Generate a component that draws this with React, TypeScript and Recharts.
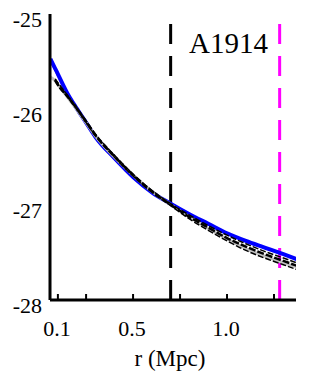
import React from 'react';
import { LineChart, Line, XAxis, YAxis, ReferenceLine } from 'recharts';

const radius = [0.06, 0.085, 0.1, 0.15, 0.2, 0.25, 0.3, 0.4, 0.5, 0.6, 0.7, 0.8, 0.9, 1.0, 1.1, 1.2, 1.3, 1.37];
const blueFit = [-25.47, -25.57, -25.63, -25.83, -25.99, -26.14, -26.29, -26.51, -26.71, -26.87, -26.99, -27.1, -27.2, -27.3, -27.38, -27.45, -27.52, -27.57];
const redFit = [-25.5, -25.59, -25.65, -25.84, -26.0, -26.15, -26.3, -26.52, -26.72, -26.87, -26.99, -27.1, -27.2, -27.3, -27.38, -27.45, -27.52, -27.57];
const grayFit = [-25.66, -25.7, -25.74, -25.87, -26.0, -26.14, -26.28, -26.5, -26.69, -26.86, -27.0, -27.13, -27.25, -27.36, -27.46, -27.54, -27.61, -27.65];
const blackHigh = [null, -25.68, -25.72, -25.85, -25.98, -26.12, -26.26, -26.48, -26.68, -26.85, -26.99, -27.11, -27.22, -27.32, -27.41, -27.49, -27.56, -27.61];
const blackMid = [null, -25.69, -25.74, -25.86, -25.99, -26.13, -26.27, -26.49, -26.69, -26.86, -27.0, -27.13, -27.24, -27.35, -27.44, -27.52, -27.59, -27.64];
const blackLow = [null, -25.7, -25.75, -25.87, -26.0, -26.14, -26.28, -26.5, -26.7, -26.87, -27.01, -27.15, -27.27, -27.38, -27.48, -27.56, -27.63, -27.68];

const xTicks = [0.1, 0.25, 0.5, 0.75, 1.0, 1.25];
const xLabels: Record<string, string> = { '0.1': '0.1', '0.5': '0.5', '1': '1.0' };
const yTicks = [-25, -26, -27, -28];
const rightTicks = [-26, -27];
const r200 = 0.7;
const rVir = 1.28;

const data = radius.map((r, i) => ({
  r,
  blue: blueFit[i],
  red: redFit[i],
  gray: grayFit[i],
  b1: blackHigh[i],
  b2: blackMid[i],
  b3: blackLow[i],
}));

const FONT = 'Liberation Serif';

const BottomTick = (props: any) => {
  const { x, y, payload } = props;
  const label = xLabels[String(payload.value)];
  return (
    <g>
      <line x1={x} y1={y} x2={x} y2={y - 6} stroke="#000" strokeWidth={2} />
      {label && (
        <text x={x - 1} y={y + 36} textAnchor="middle" fontFamily={FONT} fontSize={22} fill="#000">
          {label}
        </text>
      )}
    </g>
  );
};

const TopTick = (props: any) => {
  const { x, y } = props;
  return <line x1={x} y1={y} x2={x} y2={y + 6} stroke="#000" strokeWidth={2} />;
};

const LeftTick = (props: any) => {
  const { x, y, payload } = props;
  return (
    <text x={x - 8} y={y + 13} textAnchor="end" fontFamily={FONT} fontSize={22} fill="#000">
      {payload.value}
    </text>
  );
};

const RightTick = (props: any) => {
  const { x, y } = props;
  return <line x1={x} y1={y} x2={x - 7} y2={y} stroke="#000" strokeWidth={2} />;
};

export default function App() {
  return (
    <div style={{ position: 'absolute', left: 0, top: 0, background: '#fff' }}>
      <LineChart width={309} height={384} data={data} margin={{ top: 14, right: 13, bottom: 0, left: 0 }}>
        <XAxis
          xAxisId="b"
          dataKey="r"
          type="number"
          domain={[0.058, 1.367]}
          ticks={xTicks}
          interval={0}
          allowDataOverflow
          height={84}
          tickSize={0}
          tickMargin={0}
          tick={<BottomTick />}
          axisLine={{ stroke: '#000', strokeWidth: 3 }}
          tickLine={false}
        />
        <XAxis
          xAxisId="t"
          dataKey="r"
          type="number"
          orientation="top"
          domain={[0.058, 1.367]}
          ticks={xTicks}
          interval={0}
          allowDataOverflow
          height={0}
          tickSize={0}
          tickMargin={0}
          tick={<TopTick />}
          axisLine={{ stroke: '#000', strokeWidth: 3 }}
          tickLine={false}
        />
        <YAxis
          yAxisId="l"
          type="number"
          domain={[-28, -25]}
          ticks={yTicks}
          interval={0}
          allowDataOverflow
          width={50}
          tickSize={0}
          tickMargin={0}
          tick={<LeftTick />}
          axisLine={{ stroke: '#000', strokeWidth: 3 }}
          tickLine={false}
        />
        <YAxis
          yAxisId="r"
          orientation="right"
          type="number"
          domain={[-28, -25]}
          ticks={rightTicks}
          interval={0}
          allowDataOverflow
          width={0}
          tickSize={0}
          tickMargin={0}
          tick={<RightTick />}
          axisLine={{ stroke: '#000', strokeWidth: 3 }}
          tickLine={false}
        />
        <ReferenceLine xAxisId="b" yAxisId="l" x={r200} stroke="#000" strokeWidth={3} strokeDasharray="20 12" />
        <ReferenceLine xAxisId="b" yAxisId="l" x={rVir} stroke="#ff00ff" strokeWidth={3} strokeDasharray="20 12" />
        <Line xAxisId="b" yAxisId="l" dataKey="red" type="monotone" stroke="#ff0000" strokeWidth={1.5} dot={false} isAnimationActive={false} />
        <Line xAxisId="b" yAxisId="l" dataKey="blue" type="monotone" stroke="#0000ff" strokeWidth={4} dot={false} isAnimationActive={false} />
        <Line xAxisId="b" yAxisId="l" dataKey="gray" type="monotone" stroke="#c0c0c0" strokeWidth={3} dot={false} isAnimationActive={false} />
        <Line xAxisId="b" yAxisId="l" dataKey="b1" type="monotone" stroke="#000" strokeWidth={1.5} strokeDasharray="6 2" dot={false} connectNulls isAnimationActive={false} />
        <Line xAxisId="b" yAxisId="l" dataKey="b2" type="monotone" stroke="#000" strokeWidth={2.5} strokeDasharray="7 2" dot={false} connectNulls isAnimationActive={false} />
        <Line xAxisId="b" yAxisId="l" dataKey="b3" type="monotone" stroke="#000" strokeWidth={1.5} strokeDasharray="6 2" dot={false} connectNulls isAnimationActive={false} />
        <text x={189} y={53} fontFamily={FONT} fontSize={29} fill="#000">
          A1914
        </text>
        <text x={170} y={366} textAnchor="middle" fontFamily={FONT} fontSize={23} fill="#000">
          r (Mpc)
        </text>
      </LineChart>
    </div>
  );
}
